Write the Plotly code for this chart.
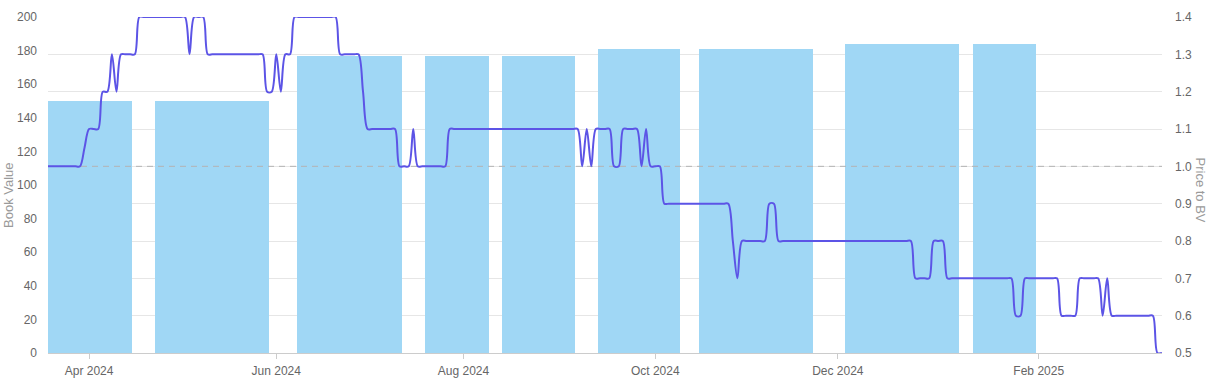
import pandas as pd
import plotly.graph_objects as go

# ---------------- data ----------------
# Trading calendar (NSE): weekdays minus exchange holidays
START_DATE = "2024-03-15"
END_DATE = "2025-03-13"
HOLIDAYS = ["2024-03-25", "2024-03-29", "2024-04-11", "2024-04-17", "2024-05-01",
            "2024-05-20", "2024-06-17", "2024-07-17", "2024-08-15", "2024-10-02",
            "2024-11-01", "2024-11-15", "2024-11-20", "2024-12-25", "2025-02-26"]

# Price to BV, one value per trading day, grouped by month
pbv_mar24 = [1.0, 1.0, 1.0, 1.0, 1.0, 1.0, 1.0, 1.0, 1.05]
pbv_apr24 = [1.1, 1.1, 1.1, 1.2, 1.2, 1.3, 1.2, 1.3, 1.3, 1.3,
             1.3, 1.4, 1.4, 1.4, 1.4, 1.4, 1.4, 1.4, 1.4, 1.4]
pbv_may24 = [1.4, 1.4, 1.3, 1.4, 1.4, 1.4, 1.3, 1.3, 1.3, 1.3,
             1.3, 1.3, 1.3, 1.3, 1.3, 1.3, 1.3, 1.3, 1.3, 1.2, 1.2]
pbv_jun24 = [1.3, 1.2, 1.3, 1.3, 1.4, 1.4, 1.4, 1.4, 1.4, 1.4,
             1.4, 1.4, 1.4, 1.4, 1.3, 1.3, 1.3, 1.3, 1.3]
pbv_jul24 = [1.2, 1.1, 1.1, 1.1, 1.1, 1.1, 1.1, 1.1, 1.0, 1.0, 1.0,
             1.1, 1.0, 1.0, 1.0, 1.0, 1.0, 1.0, 1.0, 1.1, 1.1, 1.1]
pbv_aug24 = [1.1, 1.1, 1.1, 1.1, 1.1, 1.1, 1.1, 1.1, 1.1, 1.1, 1.1,
             1.1, 1.1, 1.1, 1.1, 1.1, 1.1, 1.1, 1.1, 1.1, 1.1]
pbv_sep24 = [1.1, 1.1, 1.1, 1.1, 1.1, 1.0, 1.1, 1.0, 1.1, 1.1, 1.1,
             1.1, 1.0, 1.0, 1.1, 1.1, 1.1, 1.1, 1.0, 1.1, 1.0]
pbv_oct24 = [1.0, 1.0, 0.9, 0.9, 0.9, 0.9, 0.9, 0.9, 0.9, 0.9, 0.9,
             0.9, 0.9, 0.9, 0.9, 0.9, 0.9, 0.8, 0.7, 0.8, 0.8, 0.8]
pbv_nov24 = [0.8, 0.8, 0.8, 0.9, 0.9, 0.8, 0.8, 0.8, 0.8,
             0.8, 0.8, 0.8, 0.8, 0.8, 0.8, 0.8, 0.8, 0.8]
pbv_dec24 = [0.8, 0.8, 0.8, 0.8, 0.8, 0.8, 0.8, 0.8, 0.8, 0.8, 0.8,
             0.8, 0.8, 0.8, 0.8, 0.8, 0.8, 0.7, 0.7, 0.7, 0.7]
pbv_jan25 = [0.8, 0.8, 0.8, 0.7, 0.7, 0.7, 0.7, 0.7, 0.7, 0.7, 0.7, 0.7,
             0.7, 0.7, 0.7, 0.7, 0.7, 0.7, 0.6, 0.6, 0.7, 0.7, 0.7]
pbv_feb25 = [0.7, 0.7, 0.7, 0.7, 0.7, 0.6, 0.6, 0.6, 0.6, 0.7,
             0.7, 0.7, 0.7, 0.7, 0.6, 0.7, 0.6, 0.6, 0.6]
pbv_mar25 = [0.6, 0.6, 0.6, 0.6, 0.6, 0.6, 0.6, 0.5, 0.5]

# Book value periods (first and last trading day each value was reported for)
bv_start = ["2024-03-15", "2024-04-24", "2024-06-10", "2024-07-22", "2024-08-14",
            "2024-09-13", "2024-10-16", "2024-12-04", "2025-01-14"]
bv_end = ["2024-04-15", "2024-05-30", "2024-07-11", "2024-08-08", "2024-09-05",
          "2024-10-09", "2024-11-22", "2025-01-08", "2025-01-31"]
book_value = [150, 150, 177, 177, 177, 181, 181, 184, 184]

PAR_LEVEL = 1.0
TICK_MONTHS = ["2024-04", "2024-06", "2024-08", "2024-10", "2024-12", "2025-02"]
TICK_LABELS = ["Apr 2024", "Jun 2024", "Aug 2024", "Oct 2024", "Dec 2024", "Feb 2025"]

# ---------------- build ----------------
dates = [d.strftime("%Y-%m-%d") for d in pd.bdate_range(START_DATE, END_DATE)
         if d.strftime("%Y-%m-%d") not in HOLIDAYS]
pbv = (pbv_mar24 + pbv_apr24 + pbv_may24 + pbv_jun24 + pbv_jul24 + pbv_aug24 +
       pbv_sep24 + pbv_oct24 + pbv_nov24 + pbv_dec24 + pbv_jan25 + pbv_feb25 + pbv_mar25)
assert len(pbv) == len(dates), (len(pbv), len(dates))

pos = {d: i for i, d in enumerate(dates)}
bar_width = [pos[e] - pos[s] + 1 for s, e in zip(bv_start, bv_end)]
tickvals = [next(d for d in dates if d.startswith(m)) for m in TICK_MONTHS]

FONT = "Liberation Sans, Arial, Helvetica, sans-serif"
BAR_COLOR = "rgb(160, 215, 245)"
LINE_COLOR = "rgb(92, 84, 230)"

fig = go.Figure()
fig.add_trace(go.Bar(
    x=bv_start, y=book_value, width=bar_width, offset=-0.5,
    marker=dict(color=BAR_COLOR, line=dict(width=0)),
    name="Book Value", yaxis="y", hoverinfo="skip",
))
fig.add_trace(go.Scatter(
    x=[dates[0], dates[-1]], y=[PAR_LEVEL, PAR_LEVEL], mode="lines",
    line=dict(color="rgb(180,180,180)", width=1, dash="6px,5px"),
    yaxis="y2", hoverinfo="skip", showlegend=False,
))
fig.add_trace(go.Scatter(
    x=dates, y=pbv, mode="lines",
    line=dict(color=LINE_COLOR, width=2, shape="spline", smoothing=0.9),
    name="Price to BV", yaxis="y2",
))

fig.update_layout(
    width=1206, height=388,
    margin=dict(l=48, r=44, t=17, b=35, autoexpand=False),
    paper_bgcolor="white", plot_bgcolor="white",
    showlegend=False,
    font=dict(family=FONT, size=12, color="#666666"),
    bargap=0,
    xaxis=dict(
        type="category", categoryorder="array", categoryarray=dates,
        range=[0, len(dates) - 1], automargin=False,
        tickmode="array", tickvals=tickvals, ticktext=TICK_LABELS,
        ticks="outside", ticklen=5, tickcolor="#cccccc",
        showgrid=False, showline=True, linecolor="#cccccc", linewidth=1,
        tickfont=dict(size=12, color="#666666"),
        ticklabelstandoff=2,
    ),
    yaxis=dict(
        range=[0, 200], dtick=20, tick0=0, automargin=False,
        showgrid=False, zeroline=False, showline=False,
        ticks="", ticklabelstandoff=10,
        tickfont=dict(size=12, color="#666666"),
    ),
    yaxis2=dict(
        range=[0.5, 1.4], dtick=0.1, tick0=0.5, tickformat=".1f",
        overlaying="y", side="right", automargin=False,
        showgrid=True, gridcolor="#e6e6e6", gridwidth=1,
        zeroline=False, showline=False,
        ticks="", ticklabelstandoff=12,
        tickfont=dict(size=12, color="#666666"),
    ),
    annotations=[
        dict(text="Book Value", xref="paper", yref="paper",
             x=(8 - 48) / 1114, y=(353 - 195) / 336, showarrow=False,
             textangle=-90, font=dict(family=FONT, size=13, color="#9a9a9a"),
             xanchor="center", yanchor="middle"),
        dict(text="Price to BV", xref="paper", yref="paper",
             x=(1199.5 - 48) / 1114, y=(353 - 190) / 336, showarrow=False,
             textangle=90, font=dict(family=FONT, size=13, color="#9a9a9a"),
             xanchor="center", yanchor="middle"),
    ],
)

fig.write_html("out.html",
               config={"displayModeBar": False},
               post_script="document.body.style.margin='0px';document.body.style.overflow='hidden';")
